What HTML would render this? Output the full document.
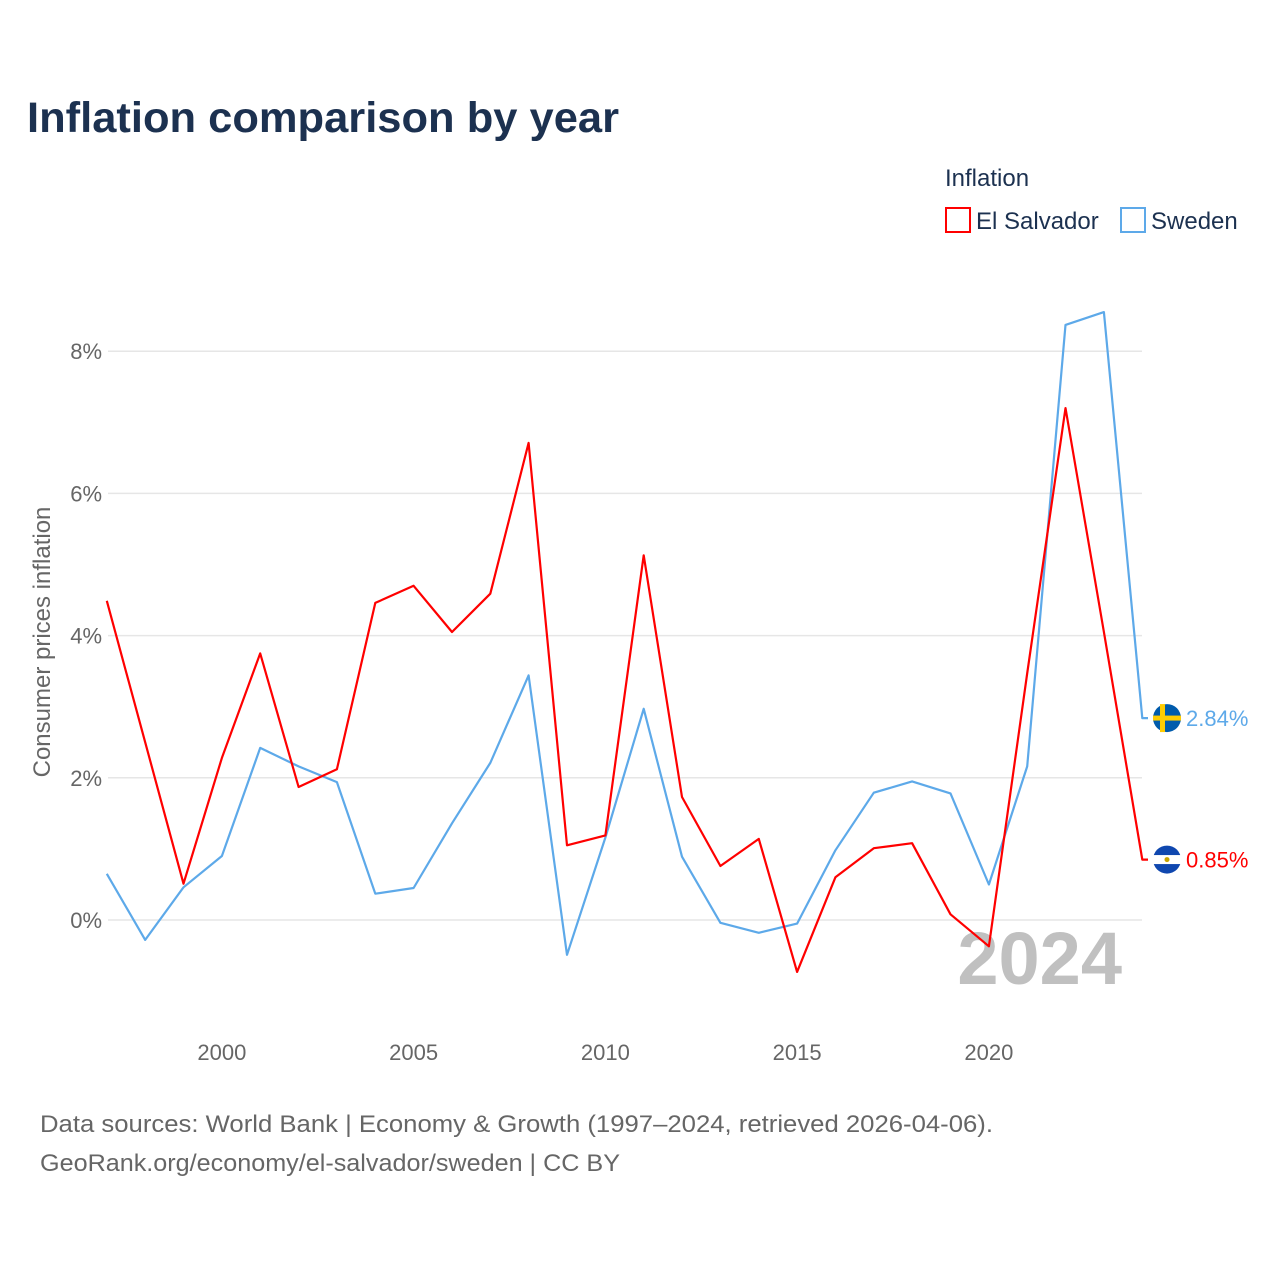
<!DOCTYPE html>
<html><head><meta charset="utf-8"><style>
body{margin:0;background:#fff;font-family:"Liberation Sans",sans-serif}
svg text{font-family:"Liberation Sans",sans-serif}
</style></head><body>
<svg id="chart" width="1280" height="1280" viewBox="0 0 1280 1280">
<text x="27" y="132" font-size="43" font-weight="bold" fill="#1c3150" textLength="592" lengthAdjust="spacingAndGlyphs">Inflation comparison by year</text>
<text x="945" y="186" font-size="24" fill="#1c3150">Inflation</text>
<g><rect x="946" y="208" width="24" height="24" fill="none" stroke="#ff0000" stroke-width="2"/><text x="976" y="229" font-size="24" fill="#1c3150">El Salvador</text></g>
<g><rect x="1121" y="208" width="24" height="24" fill="none" stroke="#5da9e9" stroke-width="2"/><text x="1151" y="229" font-size="24" fill="#1c3150">Sweden</text></g>
<g id="grid"></g><g id="yt"></g><g id="xt"></g>
<text transform="translate(50,642) rotate(-90)" text-anchor="middle" font-size="24" fill="#666">Consumer prices inflation</text>
<text x="1122" y="984" text-anchor="end" font-size="74" font-weight="bold" fill="#c0c0c0">2024</text>
<g id="series"></g>
<text x="40" y="1132" font-size="24" fill="#666" textLength="953" lengthAdjust="spacingAndGlyphs">Data sources: World Bank | Economy &amp; Growth (1997–2024, retrieved 2026-04-06).</text>
<text x="40" y="1171" font-size="24" fill="#666" textLength="580" lengthAdjust="spacingAndGlyphs">GeoRank.org/economy/el-salvador/sweden | CC BY</text>
</svg>
<script>
const years=[1997,1998,1999,2000,2001,2002,2003,2004,2005,2006,2007,2008,2009,2010,2011,2012,2013,2014,2015,2016,2017,2018,2019,2020,2021,2022,2023,2024];
const elSalvador=[4.49,2.5,0.51,2.28,3.75,1.87,2.12,4.46,4.70,4.05,4.59,6.71,1.05,1.19,5.13,1.73,0.76,1.14,-0.73,0.60,1.01,1.08,0.08,-0.37,3.47,7.20,4.05,0.85];
const sweden=[0.65,-0.28,0.46,0.90,2.42,2.16,1.94,0.37,0.45,1.36,2.21,3.44,-0.49,1.16,2.97,0.89,-0.04,-0.18,-0.05,0.98,1.79,1.95,1.78,0.50,2.16,8.37,8.55,2.84];
const yTicks=[0,2,4,6,8];
const xTicks=[2000,2005,2010,2015,2020];
const NS="http://www.w3.org/2000/svg";
const X=y=>106.8+(y-1997)*38.35;
const Y=v=>920-v*71.1;
function mk(t,a,p){const e=document.createElementNS(NS,t);for(const k in a)e.setAttribute(k,a[k]);p.appendChild(e);return e;}
const g=document.getElementById('grid'),yt=document.getElementById('yt'),xt=document.getElementById('xt'),s=document.getElementById('series');
yTicks.forEach(v=>{
 const l=mk('line',{x1:108,x2:1142,y1:Y(v),y2:Y(v),stroke:'#e6e6e6','stroke-width':1.5},g);
 
 
 const t=mk('text',{x:102,y:Y(v)+8,'text-anchor':'end','font-size':22,fill:'#666'},yt);t.textContent=v+'%';
 
 
});
xTicks.forEach(v=>{
 const t=mk('text',{x:X(v),y:1060,'text-anchor':'middle','font-size':22,fill:'#666'},xt);t.textContent=v;
 
 
});
function line(vals,color,name){
 const d=vals.map((v,i)=>(i?'L':'M')+X(years[i]).toFixed(1)+' '+Y(v).toFixed(1)).join(' ')+' H1148';
 const p=mk('path',{d:d,fill:'none',stroke:color,'stroke-width':2.2,'stroke-linejoin':'round'},s);
 
 
 const v=vals[vals.length-1],y=Y(v);
 const f=mk('circle',{cx:1167,cy:y,r:14,fill:name==='sweden'?'#005bac':'#0f47af'},s);
 
 
 if(name==='sweden'){mk('rect',{x:1153,y:y-2.5,width:28,height:5,fill:'#fecc02'},s);mk('rect',{x:1160,y:y-14,width:5,height:28,fill:'#fecc02'},s);}
 else{mk('rect',{x:1153,y:y-4.5,width:28,height:9,fill:'#fff'},s);mk('circle',{cx:1167,cy:y,r:2.5,fill:'#c8a400'},s);}
 const t=mk('text',{x:1186,y:y+8,'font-size':22,fill:color},s);t.textContent=v.toFixed(2)+'%';
 
 
}
line(sweden,'#5da9e9','sweden');
line(elSalvador,'#ff0000','el-salvador');
</script>
</body></html>
